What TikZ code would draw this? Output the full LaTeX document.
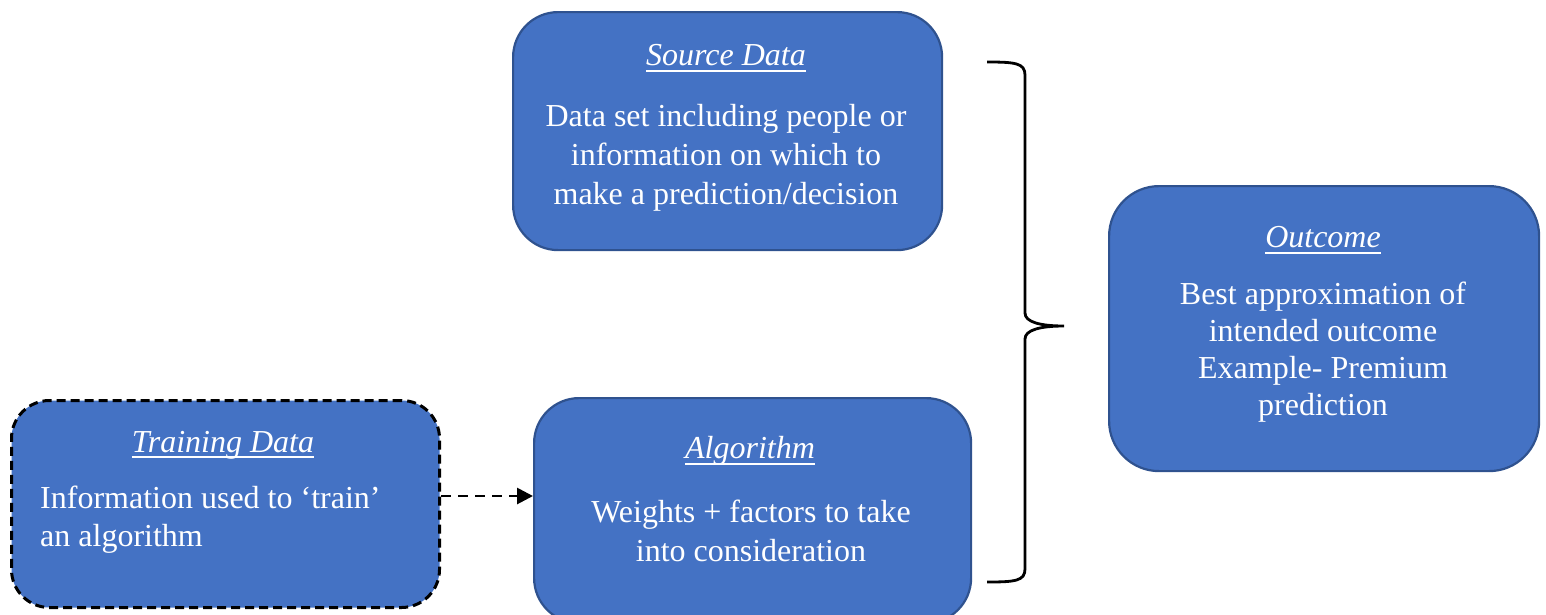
\documentclass[tikz,border=0pt]{standalone}
\usepackage{fontspec}
\setmainfont{Liberation Serif}
\usetikzlibrary{arrows.meta}

\definecolor{boxfill}{HTML}{4472C4}
\definecolor{boxline}{HTML}{2F528F}

% underline drawn as a rule under the text
\newcommand{\headline}[1]{\setbox0\hbox{#1}\rlap{\rule[-6pt]{\wd0}{1.8pt}}\box0}

\tikzset{
  box/.style={draw=boxline, line width=2.2pt, fill=boxfill, rounded corners=45pt},
  trainbox/.style={draw=black, line width=3pt, dash pattern=on 9pt off 5pt, fill=boxfill, rounded corners=38pt},
  title/.style={text=white, font=\fontsize{32}{39}\selectfont\itshape, inner sep=0pt},
  body/.style={text=white, font=\fontsize{32}{39}\selectfont, align=center, inner sep=0pt},
  bodyleft/.style={text=white, font=\fontsize{32}{38}\selectfont, align=left, inner sep=0pt},
  link/.style={draw=black, line width=2.8pt, dash pattern=on 10pt off 7pt, -{Triangle[length=16pt,width=16pt]}},
  bracket/.style={draw=black, line width=2.8pt}
}

\begin{document}
\begin{tikzpicture}[x=1pt, y=-1pt]
\clip (0,0) rectangle (1546,614);

% boxes
\node[box, minimum width=429pt, minimum height=238pt, anchor=north west] (src) at (512,11) {};
\node[box, minimum width=437pt, minimum height=225pt, anchor=north west] (alg) at (533,397) {};
\node[trainbox, minimum width=428pt, minimum height=207pt, anchor=north west] (train) at (10,399) {};
\node[box, rounded corners=50pt, minimum width=430pt, minimum height=285pt, anchor=north west] (out) at (1108,185) {};

% texts
\node[title] (srcT) at (726,58) {\headline{Source Data}};
\node[body] (srcB) at (726,158) {Data set including people or\\information on which to\\make a prediction/decision};

\node[title] (algT) at (750,451) {\headline{Algorithm}};
\node[body] (algB) at (751,531) {Weights + factors to take\\into consideration};

\node[title] (trainT) at (223,445) {\headline{Training Data}};
\node[bodyleft, anchor=west] (trainB) at (40,520) {Information used to ‘train’\\an algorithm};

\node[title] (outT) at (1323,240) {\headline{Outcome}};
\node[body, font=\fontsize{32}{37}\selectfont] (outB) at (1323,352) {Best approximation of\\intended outcome\\Example- Premium\\prediction};

% training data feeds the algorithm
\coordinate (arrS) at (train.east |- 0,496);
\coordinate (arrE) at (alg.west |- 0,496);
\draw[link] (arrS) -- (arrE);

% brace gathering source data and algorithm
\coordinate (brTop) at (987,62);
\coordinate (brTip) at (1064,326);
\coordinate (brBot) at (987,582);
\draw[bracket] (brTop) .. controls (1015,62) and (1025,63) .. (1025,75)
  -- (1025,313) .. controls (1025,322) and (1040,326) .. (brTip)
  .. controls (1040,326) and (1025,330) .. (1025,339)
  -- (1025,569) .. controls (1025,581) and (1015,582) .. (brBot);
\end{tikzpicture}
\end{document}
